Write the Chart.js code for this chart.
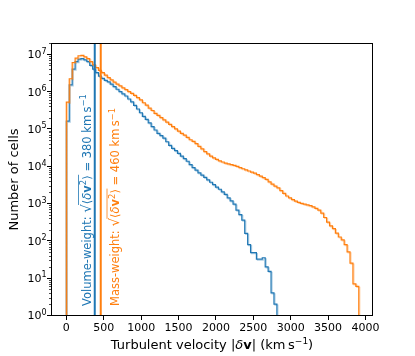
<!DOCTYPE html>
<html>
<head>
<meta charset="utf-8">
<script src="https://cdn.jsdelivr.net/npm/chart.js@4.4.1/dist/chart.umd.min.js"></script>
<style>
    html, body { margin: 0; padding: 0; background: #fff; }
</style>
</head>
<body>
<canvas id="turb-chart" width="415" height="356"></canvas>
<script>
/* ============================== DATA ============================== */
// histogram bins start at 0 km/s, all bins have the same width
const binWidth = 39.1;

// volume-weighted histogram (number of cells per bin)
const volumeCounts = [
    1.6e5, 1.5e6, 4.0e6, 6.3e6, 7.4e6, 7.6e6, 7.1e6, 6.3e6, 5.0e6, 4.0e6,
    3.2e6, 2.6e6, 2.24e6, 2.0e6, 1.82e6, 1.58e6, 1.35e6, 1.15e6, 1.0e6, 8.7e5,
    7.6e5, 6.3e5, 5.25e5, 4.27e5, 3.4e5, 2.7e5, 2.15e5, 1.8e5, 1.45e5, 1.15e5,
    9.3e4, 7.6e4, 6.6e4, 5.6e4, 4.5e4, 3.6e4, 3.0e4, 2.6e4, 2.2e4, 1.86e4,
    1.58e4, 1.35e4, 1.1e4, 9.1e3, 7.8e3, 6.6e3, 5.75e3, 5.0e3, 4.3e3, 3.7e3,
    3.2e3, 2.75e3, 2.4e3, 2.04e3, 1.74e3, 1.41e3, 1.17e3, 955, 660, 500,
    355, 158, 79, 48, 48, 32, 32, 35, 20, 15,
    4, 2
];

// mass-weighted histogram
const massCounts = [
    5.2e5, 2.2e6, 6.0e6, 7.9e6, 9.1e6, 9.3e6, 8.5e6, 7.6e6, 6.3e6, 5.2e6,
    4.4e6, 3.7e6, 3.2e6, 2.75e6, 2.35e6, 2.05e6, 1.78e6, 1.58e6, 1.41e6, 1.26e6,
    1.12e6, 1.0e6, 8.9e5, 7.9e5, 6.9e5, 6.0e5, 5.0e5, 4.3e5, 3.6e5, 3.1e5,
    2.6e5, 2.3e5, 2.0e5, 1.74e5, 1.51e5, 1.32e5, 1.15e5, 1.0e5, 8.7e4, 7.6e4,
    6.8e4, 5.9e4, 5.1e4, 4.6e4, 4.0e4, 3.4e4, 2.9e4, 2.45e4, 2.14e4, 1.86e4,
    1.66e4, 1.51e4, 1.38e4, 1.29e4, 1.2e4, 1.15e4, 1.1e4, 1.05e4, 9.8e3, 9.1e3,
    8.5e3, 7.9e3, 7.4e3, 6.9e3, 6.5e3, 5.9e3, 5.4e3, 4.9e3, 4.4e3, 3.8e3,
    3.3e3, 2.9e3, 2.6e3, 2.2e3, 1.86e3, 1.58e3, 1.41e3, 1.26e3, 1.15e3, 1.07e3,
    1.0e3, 955, 910, 870, 810, 740, 660, 550, 420, 316,
    250, 210, 160, 126, 105, 79, 50, 25, 7, 6
];

// rms turbulent velocities (km/s)
const rmsVolume = 380;
const rmsMass = 460;

const xTicks = [0, 500, 1000, 1500, 2000, 2500, 3000, 3500, 4000];
const yTicks = [1, 10, 100, 1000, 1e4, 1e5, 1e6, 1e7];


/* ============================== STYLE ============================== */
const BLUE = '#1f77b4';
const ORANGE = '#ff7f0e';
const FONT = '"DejaVu Sans"';

Chart.defaults.color = '#000';
Chart.defaults.font.family = FONT;


/* ============================== HELPERS ============================== */
// step outline of a histogram, starting and ending on the floor
function stepPoints(counts) {
    const pts = [{ x: 0, y: 0.1 }];
    counts.forEach((c, i) => pts.push({ x: i * binWidth, y: c }));
    pts.push({ x: counts.length * binWidth, y: 0.1 });
    return pts;
}

function vline(x) {
    return [{ x: x, y: 0.1 }, { x: x, y: 1e9 }];
}

// text made of pieces with their own font / raise, optional sqrt bar
function richText(ctx, parts, x, y, angle, align, color) {
    ctx.save();
    ctx.translate(x, y);
    ctx.rotate(angle);
    ctx.textBaseline = 'alphabetic';
    ctx.textAlign = 'left';
    ctx.fillStyle = color;
    let total = 0;
    parts.forEach(p => {
        ctx.font = p.f;
        p.w = ctx.measureText(p.t).width;
        total += p.w;
    });
    let cx = 0;
    if (align === 'center') cx = -total / 2;
    if (align === 'right') cx = -total;
    let barStart = null, barEnd = null;
    parts.forEach(p => {
        ctx.font = p.f;
        ctx.fillText(p.t, cx, -(p.rise || 0));
        if (p.bar) {
            if (barStart === null) barStart = cx;
            barEnd = cx + p.w;
        }
        cx += p.w;
    });
    if (barStart !== null) {
        ctx.strokeStyle = color;
        ctx.lineWidth = 0.8;
        ctx.beginPath();
        ctx.moveTo(barStart - 0.8, -12);
        ctx.lineTo(barEnd + 0.5, -12);
        ctx.stroke();
    }
    ctx.restore();
}

const fN = '11.5px ' + FONT;
const fI = 'italic 11.5px ' + FONT;
const fB = 'bold 11.5px ' + FONT;
const fS = '8.5px ' + FONT;
const fR = '13.5px ' + FONT;

function weightLabel(name, rms) {
    return [
        { t: name + ': ', f: fN },
        { t: '√', f: fR },
        { t: '⟨', f: fN, bar: true },
        { t: 'δ', f: fI, bar: true },
        { t: 'v', f: fB, bar: true },
        { t: '2', f: fS, rise: 4.5, bar: true },
        { t: '⟩', f: fN, bar: true },
        { t: ' = ' + rms + ' km\u2009s', f: fN },
        { t: '−1', f: fS, rise: 4.5 }
    ];
}


/* ============================== PLUGINS ============================== */
// faint offset copy of the histogram outlines
const haloPlugin = {
    id: 'haloPlugin',
    beforeDatasetDraw(chart, args) {
        const ds = chart.data.datasets[args.index];
        const { ctx } = chart;
        ctx.save();
        if (ds.halo) {
            ctx.shadowColor = ds.halo;
            ctx.shadowBlur = 0;
            ctx.shadowOffsetX = 1;
            ctx.shadowOffsetY = 1;
        }
    },
    afterDatasetDraw(chart) {
        chart.ctx.restore();
    }
};

const decorPlugin = {
    id: 'decorPlugin',
    afterDraw(chart) {
        const { ctx, chartArea: a, scales } = chart;
        ctx.save();

        // frame
        ctx.strokeStyle = '#000';
        ctx.lineWidth = 1;
        ctx.strokeRect(a.left + 0.5, a.top + 0.5, a.right - a.left - 1, a.bottom - a.top - 1);

        // minor log ticks
        const y = scales.y;
        ctx.beginPath();
        yTicks.forEach(d => {
            for (let m = 2; m <= 9; m++) {
                const v = d * m;
                if (v < y.min || v > y.max) continue;
                const py = Math.round(y.getPixelForValue(v)) + 0.5;
                ctx.moveTo(a.left - 2, py);
                ctx.lineTo(a.left + 0.5, py);
            }
        });
        ctx.lineWidth = 0.7;
        ctx.stroke();

        // y tick labels as 10 with a raised exponent
        yTicks.forEach(v => {
            const py = y.getPixelForValue(v);
            const parts = [
                { t: '10', f: '11px ' + FONT },
                { t: String(Math.round(Math.log10(v))), f: '8px ' + FONT, rise: 4.6 }
            ];
            richText(ctx, parts, a.left - 4.5, py + 4, 0, 'right', '#000');
        });

        // annotations beside the rms lines
        richText(ctx, weightLabel('Volume-weight', rmsVolume), 90.5, 306, -Math.PI / 2, 'left', BLUE);
        richText(ctx, weightLabel('Mass-weight', rmsMass), 119, 306, -Math.PI / 2, 'left', ORANGE);

        // x axis title
        const xt = [
            { t: 'Turbulent velocity |', f: '13px ' + FONT },
            { t: 'δ', f: 'italic 13px ' + FONT },
            { t: 'v', f: 'bold 13px ' + FONT },
            { t: '| (km\u2009s', f: '13px ' + FONT },
            { t: '−1', f: '9px ' + FONT, rise: 5 },
            { t: ')', f: '13px ' + FONT }
        ];
        richText(ctx, xt, (a.left + a.right) / 2, 349, 0, 'center', '#000');

        ctx.restore();
    }
};


/* ============================== GRAPH ============================== */
function turbulenceChart() {
    const ctx = document.getElementById('turb-chart').getContext('2d');

    new Chart(ctx, {
        type: 'line',
        data: {
            datasets: [
                { label: 'rms volume', data: vline(rmsVolume), borderColor: BLUE, borderWidth: 2, order: 1 },
                { label: 'rms mass', data: vline(rmsMass), borderColor: ORANGE, borderWidth: 2, order: 0 },
                {
                    label: 'Mass-weight', data: stepPoints(massCounts),
                    borderColor: ORANGE, borderWidth: 1.2, stepped: true, order: 2,
                    halo: 'rgba(255, 127, 14, 0.35)'
                },
                {
                    label: 'Volume-weight', data: stepPoints(volumeCounts),
                    borderColor: BLUE, borderWidth: 1.2, stepped: true, order: 3,
                    halo: 'rgba(31, 119, 180, 0.35)'
                }
            ]
        },
        options: {
            responsive: false,
            animation: false,
            events: [],
            elements: { point: { radius: 0 }, line: { tension: 0, fill: false } },
            layout: { padding: { left: 0, top: 43, right: 42, bottom: 0 } },
            plugins: {
                legend: { display: false },
                tooltip: { enabled: false }
            },
            scales: {
                x: {
                    type: 'linear',
                    min: -205,
                    max: 4100,
                    afterBuildTicks: (s) => { s.ticks = xTicks.map(v => ({ value: v })); },
                    afterFit: (s) => { s.height = 40; },
                    border: { display: false },
                    grid: { drawOnChartArea: false, tickLength: 4, tickColor: '#000', tickWidth: 1 },
                    ticks: {
                        autoSkip: false,
                        maxRotation: 0,
                        padding: 2,
                        font: { size: 11 },
                        callback: (v) => String(v)
                    }
                },
                y: {
                    type: 'logarithmic',
                    min: 0.96,
                    max: 2.0e7,
                    afterBuildTicks: (s) => { s.ticks = yTicks.map(v => ({ value: v, major: true })); },
                    afterFit: (s) => { s.width = 51; },
                    border: { display: false },
                    grid: { drawOnChartArea: false, tickLength: 4, tickColor: '#000', tickWidth: 1 },
                    ticks: {
                        autoSkip: false,
                        padding: 1,
                        font: { size: 11 },
                        callback: () => ''
                    },
                    title: {
                        display: true,
                        text: 'Number of cells',
                        font: { size: 13 },
                        padding: { top: 7, bottom: 0 }
                    }
                }
            }
        },
        plugins: [haloPlugin, decorPlugin]
    });
}

turbulenceChart();
</script>
</body>
</html>
